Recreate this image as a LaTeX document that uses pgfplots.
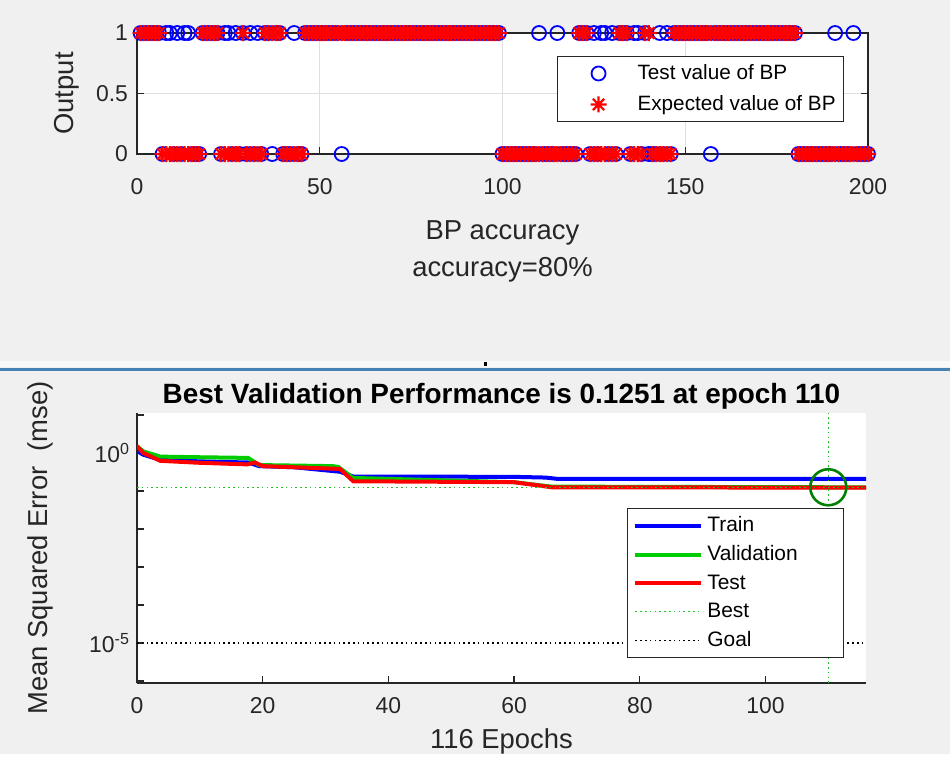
\documentclass[border=0pt]{standalone}
\usepackage{pgfplots}
\pgfplotsset{compat=1.18}
\usepackage{pgfplotstable}
\usepackage{fontspec}
\setmainfont{Liberation Sans}
\definecolor{figbg}{RGB}{240,240,240}
\definecolor{axgray}{RGB}{38,38,38}
\definecolor{mblue}{RGB}{0,0,255}
\definecolor{mgreen}{RGB}{0,204,0}
\definecolor{mred}{RGB}{255,0,0}
\definecolor{dgreen}{RGB}{0,128,0}
\definecolor{bestgreen}{RGB}{40,190,40}
\definecolor{sepblue}{RGB}{70,130,180}

\pgfdeclareplotmark{mstar}{%
  \pgfpathmoveto{\pgfqpoint{-\pgfplotmarksize}{0pt}}\pgfpathlineto{\pgfqpoint{\pgfplotmarksize}{0pt}}%
  \pgfpathmoveto{\pgfqpoint{0pt}{-\pgfplotmarksize}}\pgfpathlineto{\pgfqpoint{0pt}{\pgfplotmarksize}}%
  \pgfpathmoveto{\pgfqpoint{-.7071\pgfplotmarksize}{-.7071\pgfplotmarksize}}\pgfpathlineto{\pgfqpoint{.7071\pgfplotmarksize}{.7071\pgfplotmarksize}}%
  \pgfpathmoveto{\pgfqpoint{-.7071\pgfplotmarksize}{.7071\pgfplotmarksize}}\pgfpathlineto{\pgfqpoint{.7071\pgfplotmarksize}{-.7071\pgfplotmarksize}}%
  \pgfusepathqstroke}

\pgfplotstableread[row sep=\\]{
x T E\\
1 1 1\\2 1 1\\3 1 1\\4 1 1\\5 1 1\\6 1 1\\7 0 0\\8 1 0\\9 1 0\\10 0 0\\
11 1 0\\12 0 0\\13 1 0\\14 1 0\\15 0 0\\16 0 0\\17 0 0\\18 1 1\\19 1 1\\20 1 1\\
21 1 1\\22 1 1\\23 0 0\\24 1 0\\25 1 0\\26 0 0\\27 1 0\\28 0 0\\29 1 1\\30 0 0\\
31 1 0\\32 0 0\\33 1 0\\34 0 0\\35 1 1\\36 1 1\\37 0 1\\38 1 1\\39 1 1\\40 0 0\\
41 0 0\\42 0 0\\43 1 0\\44 0 0\\45 0 0\\46 1 1\\47 1 1\\48 1 1\\49 1 1\\50 1 1\\
51 1 1\\52 1 1\\53 1 1\\54 1 1\\55 1 1\\56 0 1\\57 1 1\\58 1 1\\59 1 1\\60 1 1\\
61 1 1\\62 1 1\\63 1 1\\64 1 1\\65 1 1\\66 1 1\\67 1 1\\68 1 1\\69 1 1\\70 1 1\\
71 1 1\\72 1 1\\73 1 1\\74 1 1\\75 1 1\\76 1 1\\77 1 1\\78 1 1\\79 1 1\\80 1 1\\
81 1 1\\82 1 1\\83 1 1\\84 1 1\\85 1 1\\86 1 1\\87 1 1\\88 1 1\\89 1 1\\90 1 1\\
91 1 1\\92 1 1\\93 1 1\\94 1 1\\95 1 1\\96 1 1\\97 1 1\\98 1 1\\99 1 1\\100 0 0\\
101 0 0\\102 0 0\\103 0 0\\104 0 0\\105 0 0\\106 0 0\\107 0 0\\108 0 0\\109 0 0\\110 1 0\\
111 0 0\\112 0 0\\113 0 0\\114 0 0\\115 1 0\\116 0 0\\117 0 0\\118 0 0\\119 0 0\\120 0 0\\
121 1 1\\122 1 1\\123 1 1\\124 0 0\\125 1 0\\126 0 0\\127 1 0\\128 1 0\\129 0 0\\130 1 0\\
131 0 0\\132 1 1\\133 1 1\\134 1 1\\135 0 0\\136 1 0\\137 1 0\\138 0 0\\139 1 1\\140 0 1\\
141 0 0\\142 0 0\\143 1 0\\144 0 0\\145 1 0\\146 0 0\\147 1 1\\148 1 1\\149 1 1\\150 1 1\\
151 1 1\\152 1 1\\153 1 1\\154 1 1\\155 1 1\\156 1 1\\157 0 1\\158 1 1\\159 1 1\\160 1 1\\
161 1 1\\162 1 1\\163 1 1\\164 1 1\\165 1 1\\166 1 1\\167 1 1\\168 1 1\\169 1 1\\170 1 1\\
171 1 1\\172 1 1\\173 1 1\\174 1 1\\175 1 1\\176 1 1\\177 1 1\\178 1 1\\179 1 1\\180 1 1\\
181 0 0\\182 0 0\\183 0 0\\184 0 0\\185 0 0\\186 0 0\\187 0 0\\188 0 0\\189 0 0\\190 0 0\\
191 1 0\\192 0 0\\193 0 0\\194 0 0\\195 0 0\\196 1 0\\197 0 0\\198 0 0\\199 0 0\\200 0 0\\
}\bpdata

\pgfplotstableread[row sep=\\]{
ep val\\
0 1.5\\0.5 1.0\\1 0.9\\2 0.8\\3.7 0.66\\10 0.6\\17.7 0.56\\19.4 0.45\\25 0.42\\32.3 0.32\\34.4 0.24\\60 0.235\\65 0.225\\67 0.207\\116 0.207\\
}\trainperf
\pgfplotstableread[row sep=\\]{
ep val\\
0 1.5\\1 1.1\\3.7 0.8\\10 0.77\\17.7 0.74\\19.4 0.48\\31.1 0.45\\32 0.43\\34.4 0.22\\60 0.17\\66 0.13\\110 0.1251\\116 0.125\\
}\valperf
\pgfplotstableread[row sep=\\]{
ep val\\
0 1.5\\1 1.0\\3.7 0.62\\10 0.55\\17.5 0.5\\18.8 0.56\\20 0.45\\32.3 0.38\\34.4 0.18\\60 0.17\\66 0.125\\116 0.122\\
}\testperf

\begin{document}
\begin{tikzpicture}
\fill[figbg] (0,0) rectangle (475bp,377bp);
% separator strip between the two figures
\fill[white!60!figbg] (0bp,193.5bp) rectangle (475bp,196.5bp);
\fill[sepblue] (0bp,191.5bp) rectangle (475bp,193bp);
\fill[black] (242bp,194bp) rectangle (243.5bp,196bp);

\begin{axis}[
  at={(68.5bp,300bp)}, anchor=south west,
  scale only axis, width=365.5bp, height=60.5bp,
  xmin=0, xmax=200, ymin=0, ymax=1,
  xtick={0,50,100,150,200}, ytick={0,0.5,1},
  grid=major, major grid style={gray!25, line width=0.4bp},
  axis line style={axgray, line width=0.6bp},
  tick style={axgray, line width=0.6bp},
  tick align=inside, major tick length=3.5bp,
  axis background/.style={fill=white},
  clip=false,
  /pgf/number format/assume math mode=true,
  tick label style={font=\fontsize{11.5}{13}\selectfont, text=axgray},
  xticklabel style={yshift=-8.5bp},
  yticklabel style={xshift=-1bp},
  xlabel={BP accuracy\\accuracy=80\%},
  xlabel style={align=center, font=\fontsize{13.75}{18.5}\selectfont, text=axgray,
    at={(axis description cs:0.5,-0.806)}, anchor=center},
  ylabel={Output},
  ylabel style={font=\fontsize{13.75}{16}\selectfont, text=axgray,
    at={(axis description cs:-0.096,0.5)}, anchor=center, rotate=0},
  legend style={at={(axis description cs:0.5746,0.81)}, anchor=north west,
    font=\fontsize{10.4}{12}\selectfont, draw=axgray, line width=0.5bp,
    fill=white, row sep=2.5bp, inner xsep=2bp, inner ysep=2bp},
  legend cell align=left,
  legend image code/.code={\path[draw=none] (0bp,0bp) -- (36bp,0bp); \draw[#1, draw opacity=0] (18.4bp,0bp) -- (18.6bp,0bp); \path[#1] plot[only marks] coordinates {(18.5bp,0bp)};},
]
\addplot[only marks, mark=o, mark size=3.5bp, mblue, line width=0.9bp] table[x=x,y=T]{\bpdata};
\addlegendentry{Test value of BP}
\addplot[only marks, mark=mstar, mark size=4bp, mred, line width=1.1bp] table[x=x,y=E]{\bpdata};
\addlegendentry{Expected value of BP}
\end{axis}

\begin{axis}[
  at={(68.5bp,35.5bp)}, anchor=south west,
  scale only axis, width=364.5bp, height=135bp,
  xmin=0, xmax=116, ymode=log, ymin=8.9e-7, ymax=11.22,
  xtick={0,20,40,60,80,100},
  ytick={1e-5,1}, yticklabels={10\textsuperscript{-5},10\textsuperscript{0}},
  minor ytick={1e-6,1e-4,1e-3,1e-2,1e-1,1e1},
  axis x line*=bottom, axis y line*=left,
  axis line style={axgray, line width=0.6bp, -},
  tick style={axgray, line width=0.6bp},
  tick align=inside, major tick length=3.5bp, minor tick length=3.5bp,
  axis background/.style={fill=white},
  /pgf/number format/assume math mode=true,
  tick label style={font=\fontsize{11.5}{13}\selectfont, text=axgray},
  xticklabel style={yshift=-3.5bp},
  every axis title shift=0pt,
  title={\bfseries Best Validation Performance is 0.1251 at epoch 110},
  title style={font=\fontsize{14}{16}\selectfont, text=black,
    at={(axis description cs:0.5,1.037)}, anchor=base},
  xlabel={116 Epochs},
  xlabel style={font=\fontsize{13.75}{16}\selectfont, text=axgray,
    at={(axis description cs:0.5,-0.218)}, anchor=center},
  ylabel={Mean Squared Error\ \ (mse)},
  ylabel style={font=\fontsize{13.75}{16}\selectfont, text=axgray,
    at={(axis description cs:-0.133,0.5)}, anchor=center, rotate=0},
  legend style={at={(axis description cs:0.672,0.648)}, anchor=north west,
    font=\fontsize{10.5}{12}\selectfont, draw=axgray, line width=0.5bp,
    fill=white, row sep=1.5bp, inner xsep=3bp, inner ysep=2bp},
  legend cell align=left,
  legend image code/.code={\draw[#1] (0bp,0bp) -- (33bp,0bp);},
]
\addplot[mblue, line width=2bp] table[x=ep,y=val]{\trainperf};
\addlegendentry{Train}
\addplot[mgreen, line width=2bp] table[x=ep,y=val]{\valperf};
\addlegendentry{Validation\hspace*{18bp}}
\addplot[mred, line width=2bp] table[x=ep,y=val]{\testperf};
\addlegendentry{Test}
\addplot[bestgreen, line width=0.6bp, dash pattern=on 0.8bp off 1.6bp] coordinates {(0,0.1251) (116,0.1251)};
\addlegendentry{Best}
\addplot[black, line width=0.6bp, dash pattern=on 0.8bp off 1.6bp] coordinates {(0,1e-5) (116,1e-5)};
\addlegendentry{Goal}
\addplot[bestgreen, line width=0.6bp, dash pattern=on 0.8bp off 1.6bp, forget plot] coordinates {(110,8.9e-7) (110,11.22)};
\addplot[only marks, mark=o, mark size=9bp, dgreen, line width=1.3bp, forget plot] coordinates {(110,0.1251)};
\end{axis}
\end{tikzpicture}
\end{document}
